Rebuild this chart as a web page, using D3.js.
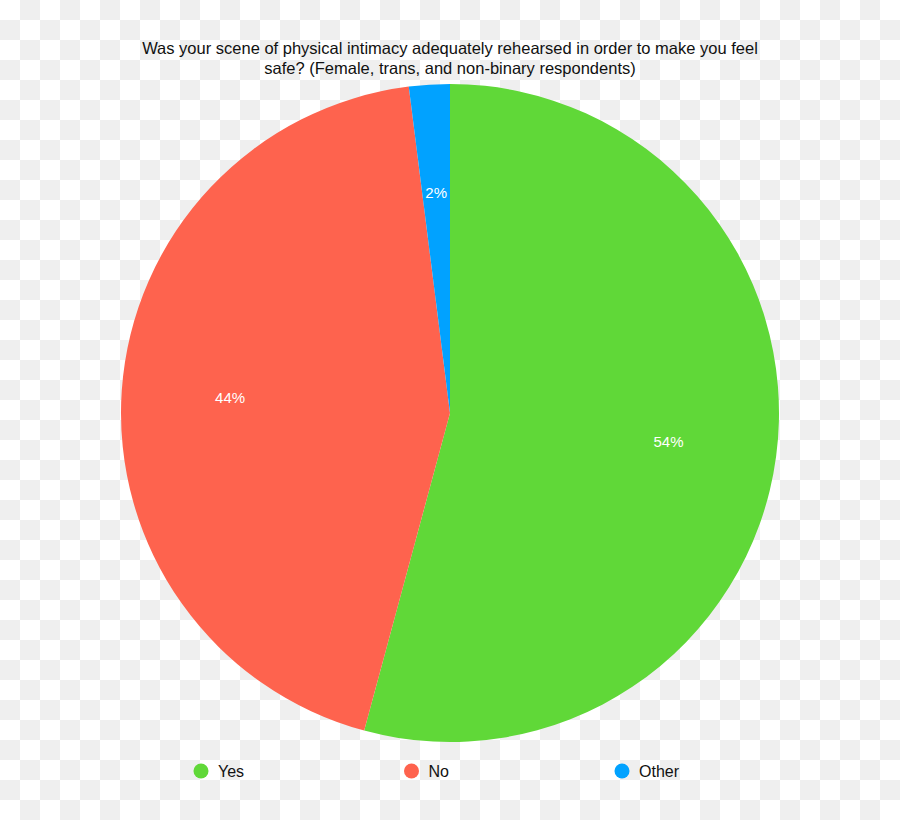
<!DOCTYPE html>
<html>
<head>
<meta charset="utf-8">
<script src="https://cdn.jsdelivr.net/npm/d3@7"></script>
<style>
  html, body { margin: 0; padding: 0; }
  body { width: 900px; height: 820px; overflow: hidden; }
</style>
</head>
<body>
<div id="chart"></div>
<script>
// survey answers, share of respondents (%)
const categories = ["Yes", "No", "Other"];
const shares = [54.2, 43.8, 2.0];
const shareLabels = ["54%", "44%", "2%"];
const colors = ["#60d838", "#fe634e", "#01a2ff"];

const titleLines = [
  "Was your scene of physical intimacy adequately rehearsed in order to make you feel",
  "safe? (Female, trans, and non-binary respondents)"
];

const width = 900;
const height = 820;
const cx = 450, cy = 413, radius = 329;
const font = "'Liberation Sans', Arial, Helvetica, sans-serif";

const svg = d3.select("#chart").append("svg")
    .attr("width", width)
    .attr("height", height)
    .style("font-family", font);

// transparent-image checkerboard behind the chart
const defs = svg.append("defs");
const pat = defs.append("pattern")
    .attr("id", "checker")
    .attr("width", 40)
    .attr("height", 40)
    .attr("patternUnits", "userSpaceOnUse");
pat.append("rect").attr("width", 40).attr("height", 40).attr("fill", "#ffffff");
pat.append("rect").attr("x", 20).attr("y", 0).attr("width", 20).attr("height", 20).attr("fill", "#efefef");
pat.append("rect").attr("x", 0).attr("y", 20).attr("width", 20).attr("height", 20).attr("fill", "#efefef");
svg.append("rect").attr("width", width).attr("height", height).attr("fill", "url(#checker)");

// title
svg.append("g")
    .selectAll("text")
    .data(titleLines)
    .join("text")
    .attr("x", width / 2)
    .attr("y", (d, i) => 54 + i * 20)
    .attr("text-anchor", "middle")
    .attr("font-size", 16.5)
    .attr("fill", "#111")
    .text(d => d);

const data = categories.map((c, i) => ({ name: c, value: shares[i], label: shareLabels[i], color: colors[i] }));

const pie = d3.pie()
    .sort(null)
    .value(d => d.value);

const arc = d3.arc()
    .innerRadius(0)
    .outerRadius(radius);

const labelArc = d3.arc()
    .innerRadius(radius * 0.67)
    .outerRadius(radius * 0.67);

const g = svg.append("g")
    .attr("transform", `translate(${cx},${cy})`);

const arcs = pie(data);

g.selectAll("path")
    .data(arcs)
    .join("path")
    .attr("d", arc)
    .attr("fill", d => d.data.color);

g.selectAll("text")
    .data(arcs)
    .join("text")
    .attr("transform", d => `translate(${labelArc.centroid(d)})`)
    .attr("dy", "0.35em")
    .attr("text-anchor", "middle")
    .attr("font-size", 15)
    .attr("fill", "#ffffff")
    .text(d => d.data.label);

// legend
const legendX = d3.scalePoint()
    .domain(categories)
    .range([201, 622]);

const legend = svg.append("g")
    .selectAll("g")
    .data(data)
    .join("g")
    .attr("transform", d => `translate(${legendX(d.name)},771)`);

legend.append("circle")
    .attr("r", 7.5)
    .attr("fill", d => d.color);

legend.append("text")
    .attr("x", 17)
    .attr("dy", "0.36em")
    .attr("font-size", 16)
    .attr("fill", "#111")
    .text(d => d.name);
</script>
</body>
</html>
